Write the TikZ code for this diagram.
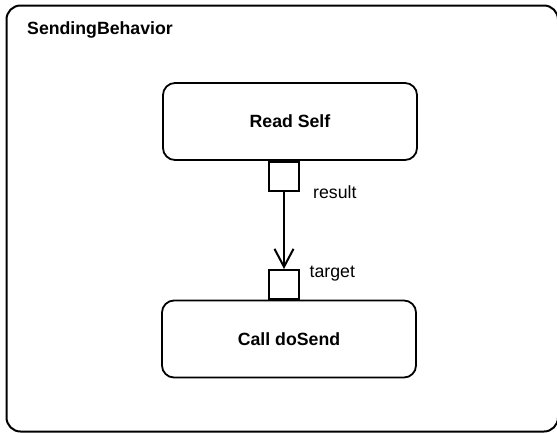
\documentclass[tikz,border=0pt]{standalone}
\usepackage{fontspec}
\setmainfont{Liberation Sans}
\usetikzlibrary{arrows.meta}
\begin{document}
\begin{tikzpicture}[x=1pt,y=-1pt,
 action/.style={draw, line width=1.8pt, rounded corners=12pt, minimum width=254pt, minimum height=77pt, font=\fontsize{17.7}{20}\selectfont\bfseries, inner sep=0pt},
 pinbox/.style={draw, line width=1.6pt, minimum width=30pt, minimum height=29pt, inner sep=0pt, fill=white},
 lbl/.style={font=\fontsize{17.7}{20}\selectfont, inner sep=0pt, anchor=base west},
 flow/.style={line width=2pt, -{Straight Barb[length=18pt,width=19pt]}}]
\useasboundingbox (0,0) rectangle (557,432);
\draw[line width=2pt, rounded corners=14pt] (6.5,5.5) rectangle (558,431.5);
\node[lbl, font=\fontsize{17.7}{20}\selectfont\bfseries] (title) at (27,34.5) {SendingBehavior};
\node[action] (read) at (290,121.5) {\raisebox{-2pt}{Read Self}};
\node[action] (call) at (289,339) {\raisebox{-2pt}{Call doSend}};
\node[pinbox, anchor=north] (res) at ([xshift=-6pt]read.south) {};
\node[pinbox, anchor=south] (tgt) at ([xshift=-5pt]call.north) {};
\draw[flow] (res) -- (tgt);
\node[lbl] (reslbl) at (313,198) {result};
\node[lbl] (tgtlbl) at (309.5,277) {target};
\end{tikzpicture}
\end{document}
